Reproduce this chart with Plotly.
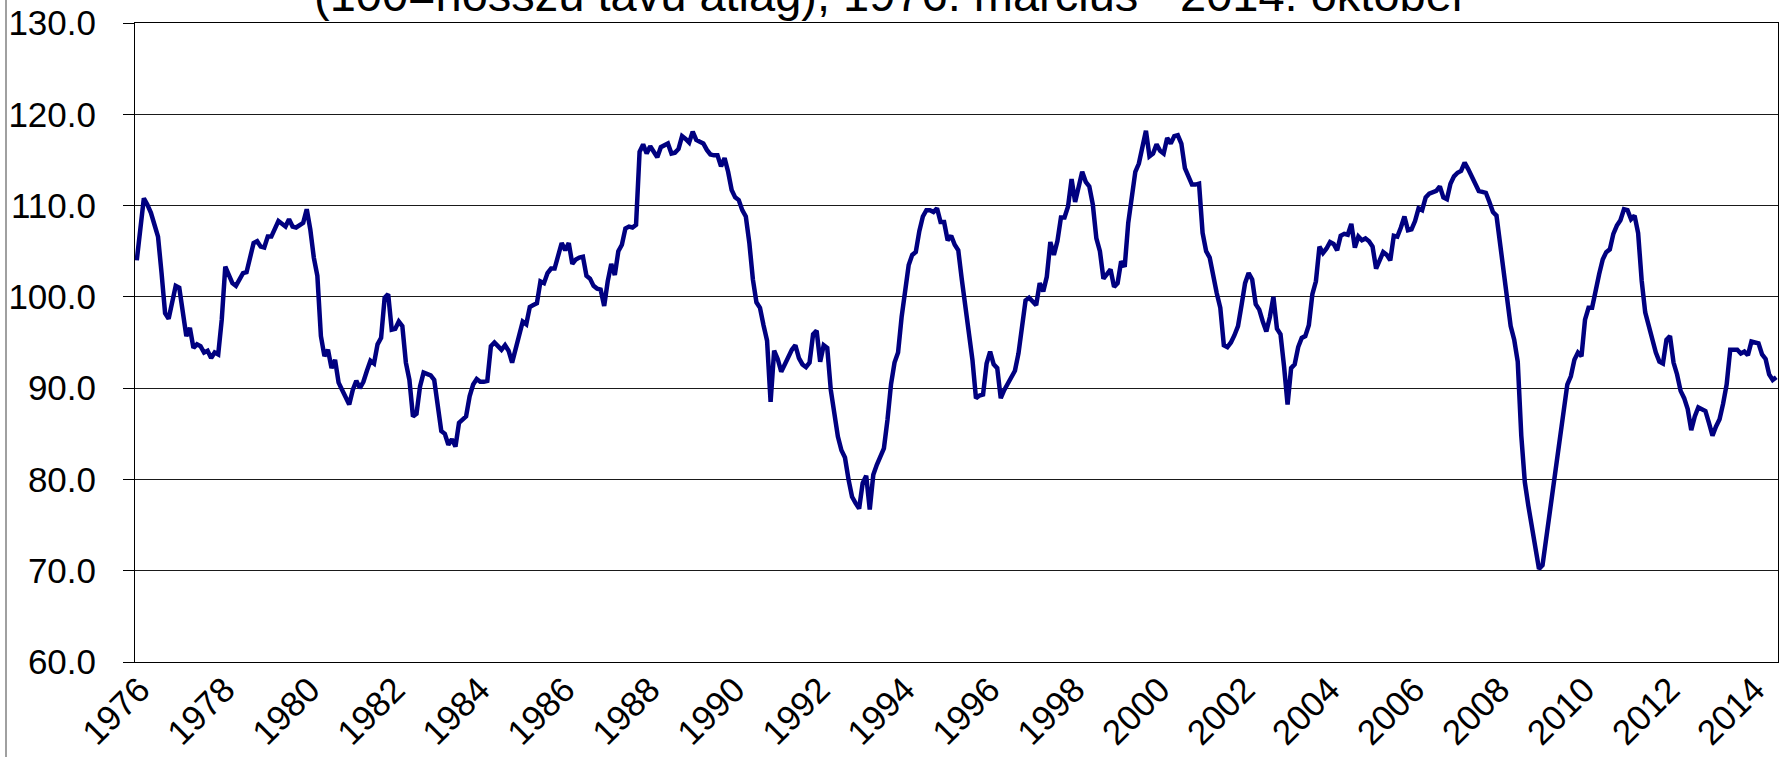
import pandas as pd
import plotly.graph_objects as go

# Monthly categories: 1976-03 .. 2014-10
months = [p.strftime("%Y-%m") for p in pd.period_range("1976-03", "2014-10", freq="M")]

values = [
    104.0, 107.4, 110.8, 110.1, 109.2, 107.9, 106.6, 102.6, 98.2, 97.6, 99.3, 101.2,
    101.0, 98.2, 95.7, 96.6, 94.4, 94.8, 94.6, 93.9, 94.1, 93.3, 93.9, 93.7,
    97.5, 103.3, 102.3, 101.5, 101.2, 101.9, 102.6, 102.7, 104.2, 105.9, 106.1, 105.5,
    105.4, 106.6, 106.6, 107.6, 108.3, 108.0, 107.7, 108.5, 107.7, 107.6, 107.9, 108.1,
    109.6, 107.4, 104.3, 102.3, 95.7, 93.5, 94.2, 92.2, 93.1, 90.6, 89.8, 88.9,
    88.2, 89.8, 90.8, 90.0, 90.7, 91.9, 93.0, 92.7, 94.8, 95.5, 99.9, 100.3,
    96.4, 96.5, 97.3, 96.8, 92.8, 90.9, 86.9, 87.2, 90.2, 91.7, 91.5, 91.4,
    90.9, 88.4, 85.3, 85.0, 83.8, 84.4, 83.6, 86.2, 86.6, 86.9, 89.1, 90.4,
    91.0, 90.7, 90.7, 90.8, 94.6, 95.0, 94.6, 94.2, 94.7, 94.1, 92.8, 94.2,
    95.9, 97.3, 97.0, 98.9, 99.1, 99.3, 101.7, 101.5, 102.6, 103.1, 103.1, 104.4,
    105.9, 105.1, 105.9, 103.6, 104.1, 104.3, 104.4, 102.3, 102.0, 101.2, 100.9, 100.8,
    99.0, 101.7, 103.6, 102.4, 105.0, 105.7, 107.5, 107.7, 107.6, 107.9, 115.9, 116.7,
    115.7, 116.5, 115.8, 115.3, 116.4, 116.6, 116.8, 115.7, 115.8, 116.2, 117.6, 117.3,
    116.9, 118.1, 117.2, 117.0, 116.8, 116.1, 115.6, 115.5, 115.5, 114.3, 115.2, 113.7,
    111.7, 110.9, 110.6, 109.5, 108.8, 105.9, 101.9, 99.4, 98.8, 96.9, 95.2, 88.5,
    94.1, 93.2, 91.8, 92.6, 93.4, 94.2, 94.7, 93.3, 92.6, 92.3, 92.8, 95.9,
    96.3, 92.9, 94.7, 94.4, 89.8, 87.4, 84.7, 83.2, 82.4, 80.0, 78.1, 77.4,
    76.8, 79.6, 80.4, 76.7, 80.5, 81.6, 82.4, 83.4, 86.5, 90.4, 92.8, 93.9,
    97.8, 100.6, 103.5, 104.6, 104.9, 107.2, 108.8, 109.5, 109.5, 109.3, 109.7, 108.2,
    108.2, 106.2, 106.7, 105.7, 105.1, 101.9, 98.8, 95.3, 93.1, 88.9, 89.2, 89.3,
    92.7, 94.0, 92.6, 92.2, 88.9, 89.8, 90.5, 91.2, 91.9, 93.8, 97.1, 99.6,
    99.9, 99.4, 99.1, 101.5, 100.6, 102.2, 106.0, 104.6, 106.1, 108.7, 108.7, 109.9,
    112.9, 110.4, 112.3, 113.7, 112.6, 112.1, 110.1, 106.4, 105.0, 102.0, 102.5, 103.0,
    101.1, 101.5, 103.9, 103.3, 108.1, 110.6, 113.7, 114.6, 116.4, 118.2, 115.4, 115.7,
    116.7, 116.0, 115.7, 117.4, 116.8, 117.6, 117.7, 116.8, 114.1, 113.3, 112.3, 112.3,
    112.4, 107.0, 105.0, 104.3, 102.1, 100.4, 98.8, 94.7, 94.5, 95.0, 95.8, 96.8,
    99.1, 101.5, 102.6, 101.9, 99.2, 98.6, 97.3, 96.2, 97.8, 100.0, 96.5, 95.9,
    92.4, 88.2, 92.2, 92.6, 94.5, 95.5, 95.7, 96.9, 100.3, 101.7, 105.5, 104.8,
    105.3, 106.0, 105.8, 105.1, 106.7, 106.9, 106.8, 108.0, 105.4, 106.6, 106.2, 106.4,
    106.1, 105.5, 103.1, 104.0, 104.9, 104.6, 104.0, 106.7, 106.6, 107.6, 108.8, 107.3,
    107.4, 108.3, 109.7, 109.5, 110.9, 111.3, 111.5, 111.6, 112.1, 110.9, 110.7, 112.4,
    113.2, 113.6, 113.8, 114.7, 114.0, 113.1, 112.4, 111.6, 111.5, 111.4, 110.4, 109.3,
    108.9, 105.9, 103.0, 100.0, 96.8, 95.3, 92.9, 84.8, 79.7, 77.1, 74.9, 72.7,
    70.2, 70.6, 73.5, 76.7, 78.7, 82.0, 85.1, 87.9, 90.4, 91.3, 93.1, 93.9,
    93.5, 97.5, 98.8, 98.8, 100.8, 102.5, 104.1, 104.9, 105.2, 106.9, 107.8, 108.4,
    109.6, 109.5, 108.5, 108.9, 107.0, 101.8, 98.3, 96.8, 95.1, 93.9, 92.9, 92.7,
    95.3, 95.7, 92.8, 91.5, 89.7, 88.9, 87.7, 85.4, 86.9, 87.9, 87.7, 87.5,
    86.2, 84.8, 85.8, 86.6, 88.3, 90.4, 94.2, 94.2, 94.2, 93.8, 94.0, 93.6,
    95.1, 95.0, 94.9, 93.7, 93.2, 91.5, 90.9, 91.2,
]

tick_years = list(range(1976, 2015, 2))
tick_vals = [f"{y}-03" for y in tick_years]
tick_text = [str(y) for y in tick_years]
y_ticks = [60, 70, 80, 90, 100, 110, 120, 130]

title_text = "(100=hosszú távú átlag), 1976. március - 2014. október"

FONT = "Liberation Sans, Arial, sans-serif"

fig = go.Figure()
fig.add_trace(go.Scatter(
    x=months, y=values, mode="lines",
    line=dict(color="#000080", width=4.5),
    hoverinfo="x+y", showlegend=False,
))

fig.update_layout(
    width=1781, height=757,
    margin=dict(l=135, r=3, t=23, b=95),
    paper_bgcolor="white", plot_bgcolor="white",
    font=dict(family=FONT, size=35, color="black"),
    showlegend=False,
    xaxis=dict(
        type="category", categoryorder="array", categoryarray=months,
        range=[-0.5, len(months) - 0.5],
        tickmode="array", tickvals=tick_vals, ticktext=tick_text,
        tickangle=-45, ticks="", showgrid=False,
        showline=True, linecolor="black", linewidth=1, mirror=True,
        tickfont=dict(family=FONT, size=35, color="black"),
        ticklabelstandoff=-8, ticklabelshift=3, automargin=False,
        zeroline=False,
    ),
    yaxis=dict(
        range=[60, 130], tickmode="array", tickvals=y_ticks,
        tickformat=".1f",
        ticks="outside", ticklen=11, tickcolor="black", tickwidth=1,
        showgrid=True, gridcolor="#1a1a1a", gridwidth=1,
        showline=True, linecolor="black", linewidth=1, mirror=True,
        tickfont=dict(family=FONT, size=35, color="black"),
        ticklabelstandoff=20, automargin=False,
        zeroline=False,
    ),
    annotations=[dict(
        text=title_text, xref="paper", yref="paper",
        x=(890 - 135) / 1643, y=1.0, xanchor="center", yanchor="bottom",
        showarrow=False, font=dict(family=FONT, size=47, color="black"),
    )],
    shapes=[dict(
        type="line", xref="paper", yref="paper",
        x0=(6 - 135) / 1643, x1=(6 - 135) / 1643, y0=-0.3, y1=1.3,
        line=dict(color="#808080", width=1.5),
    )],
)

fig.write_html(
    "out.html",
    config={"displayModeBar": False},
    post_script="document.body.style.margin='0';document.body.style.overflow='hidden';",
)
